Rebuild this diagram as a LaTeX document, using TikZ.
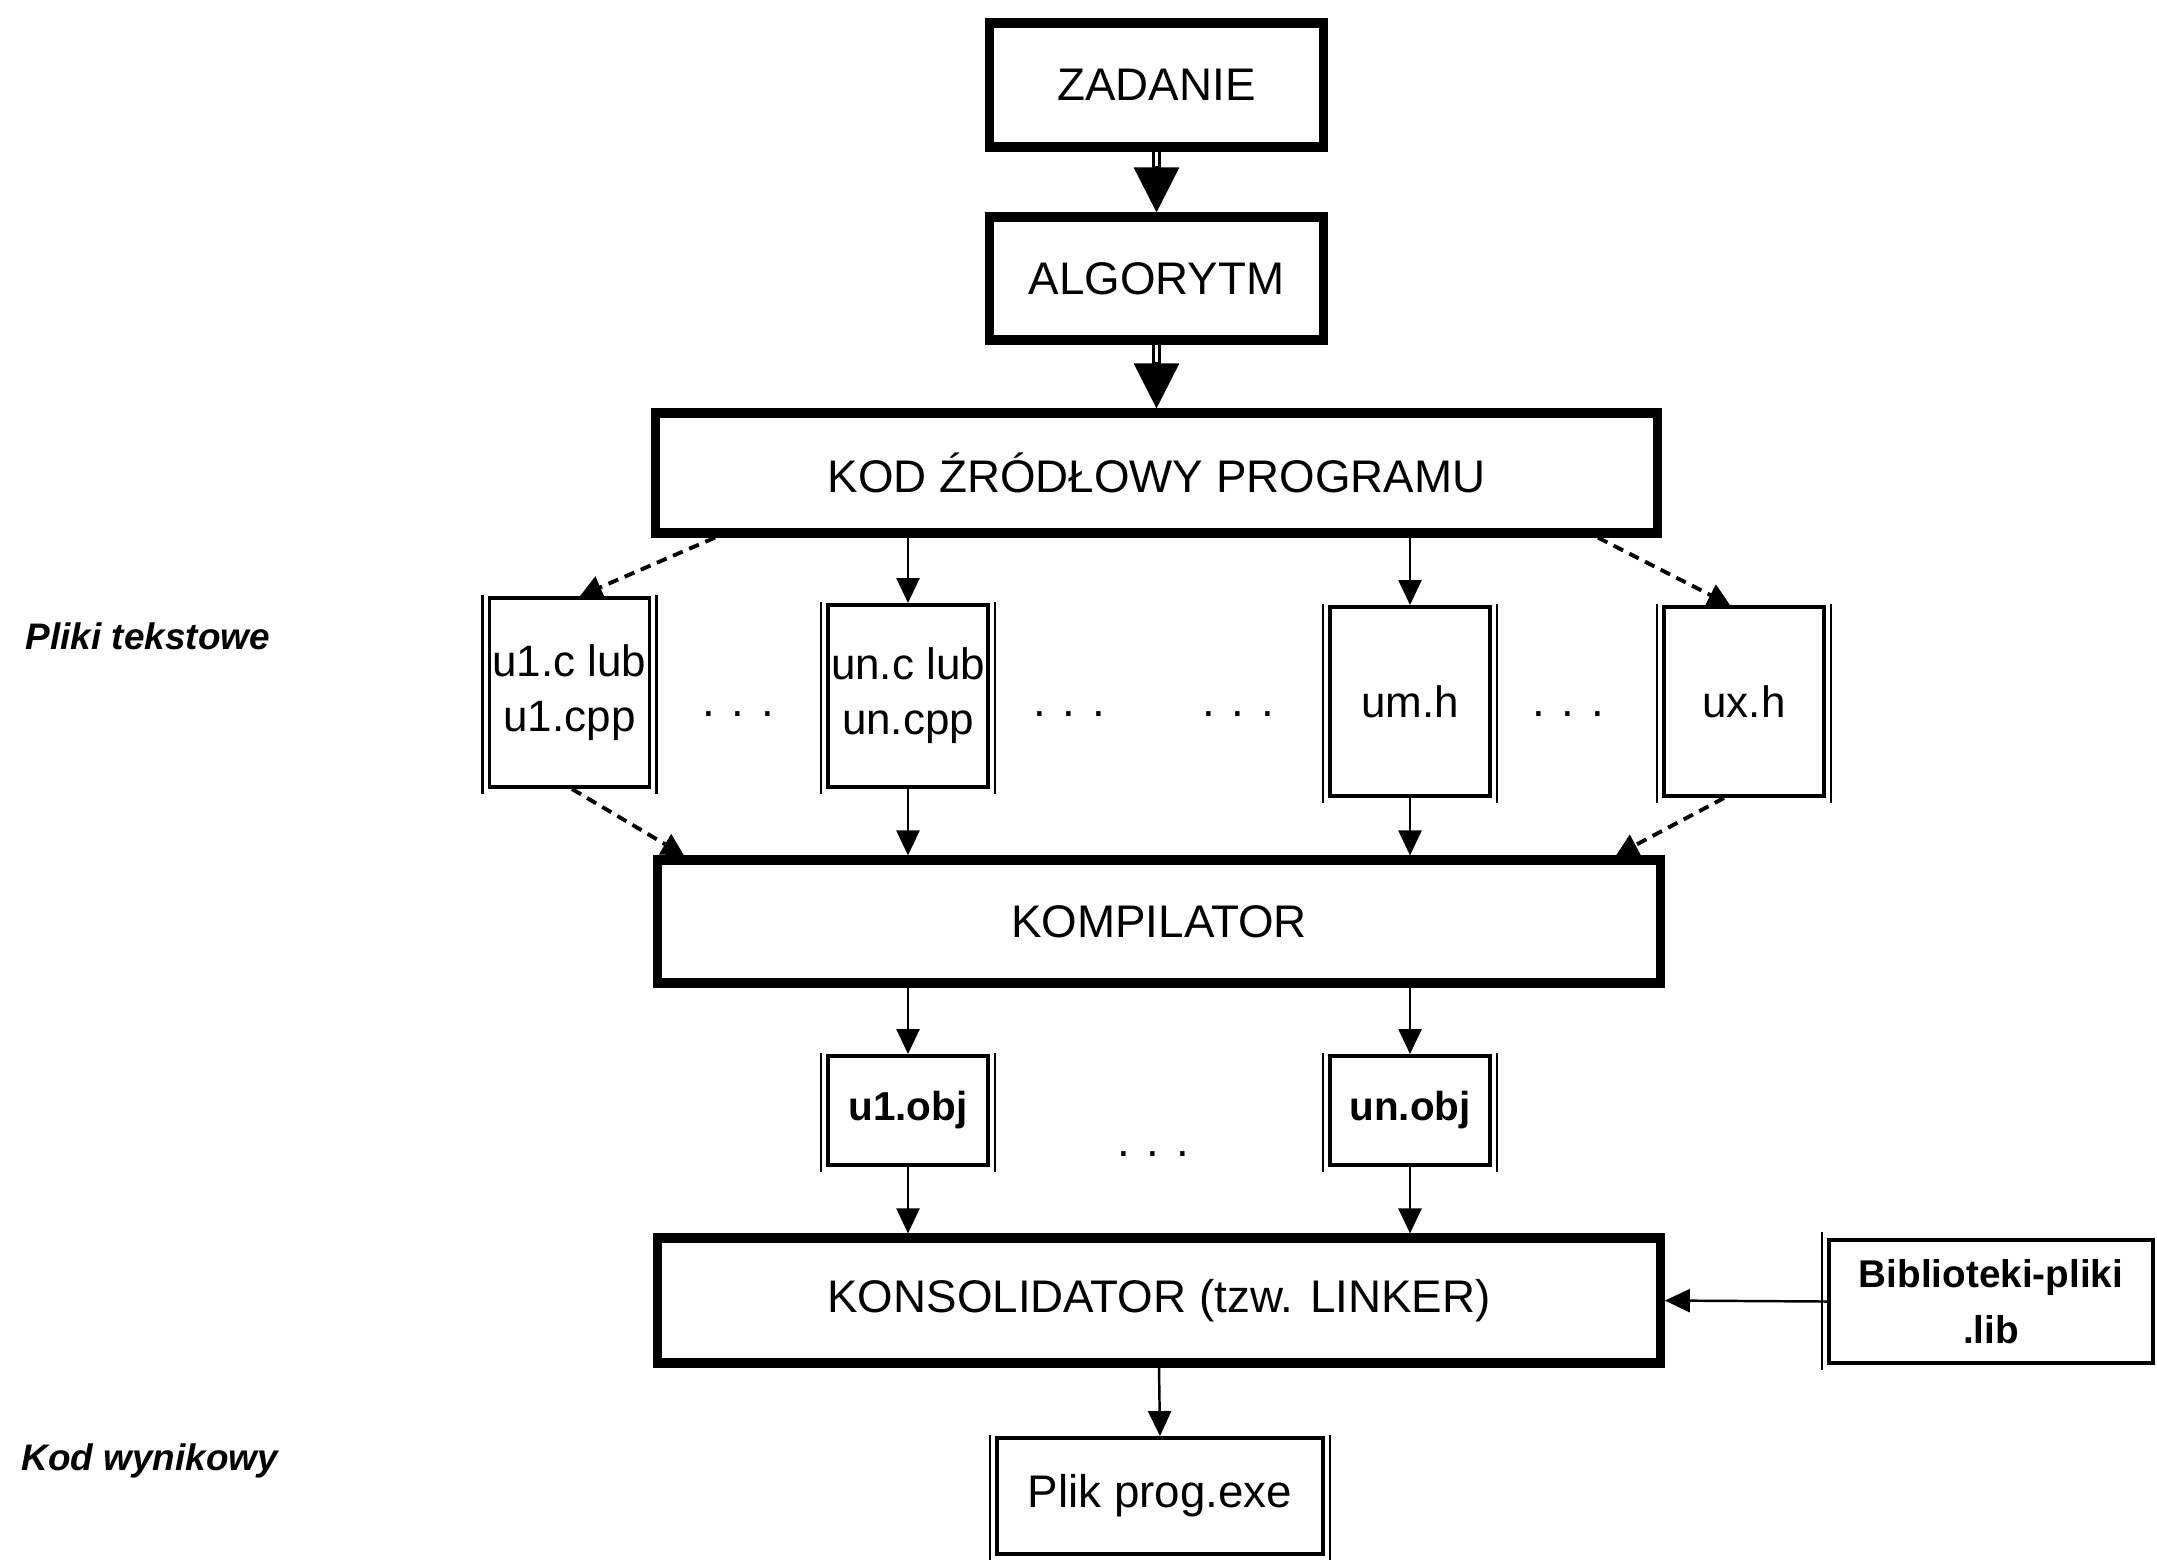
\documentclass[tikz,border=0pt]{standalone}
\usepackage{fontspec}
\setmainfont{Liberation Sans}
\usetikzlibrary{arrows.meta}
\begin{document}
\begin{tikzpicture}[x=0.01cm,y=-0.01cm,
  thickbox/.style={draw, line width=2.6pt, inner sep=0pt, font=\fontsize{13}{15}\selectfont},
  filebox/.style={draw, line width=1.1pt, inner sep=0pt, align=center, minimum width=1.60cm, font=\fontsize{12.5}{15.6}\selectfont},
  objbox/.style={filebox, font=\fontsize{11.5}{14}\selectfont\bfseries},
  sideline/.style={line width=0.7pt},
  dotstxt/.style={inner sep=0pt, anchor=base, font=\fontsize{13}{15}\selectfont},
  lbl/.style={inner sep=0pt, anchor=west, font=\fontsize{10.5}{12}\selectfont\bfseries\itshape},
  arr/.style={line width=0.7pt, -{Triangle[width=0.23cm,length=0.25cm]}},
  darr/.style={line width=1.1pt, dash pattern=on 3pt off 2pt, -{Triangle[width=0.23cm,length=0.22cm]}},
  dblshaft/.style={double, line width=0.8pt, double distance=0.7pt},
  bigtip/.style={line width=0.8pt, -{Triangle[width=0.45cm,length=0.45cm]}}
]
\fill[white] (0,0) rectangle (2157,1559);
\useasboundingbox (0,0) rectangle (2157,1559);

% main boxes
\node[thickbox, minimum width=3.33cm, minimum height=1.24cm] (zad) at (1156.5,85) {ZADANIE};
\node[thickbox, minimum width=3.33cm, minimum height=1.23cm] (alg) at (1156.5,278.5) {ALGORYTM};
\node[thickbox, minimum width=10.01cm, minimum height=1.20cm] (kod) at (1156.5,473) {KOD ŹRÓDŁOWY PROGRAMU};
\node[thickbox, minimum width=10.02cm, minimum height=1.23cm] (komp) at (1159,921.5) {KOMPILATOR};
\node[thickbox, minimum width=10.02cm, minimum height=1.25cm] (kons) at (1159,1300.5) {KONSOLIDATOR (tzw. LINKER)};

% file boxes
\node[filebox, minimum height=1.89cm] (u1) at (569.5,692.5) {u1.c lub\\u1.cpp};
\node[filebox, minimum height=1.82cm] (un) at (908,696) {un.c lub\\un.cpp};
\node[filebox, minimum height=1.89cm] (um) at (1410,701.5) {um.h};
\node[filebox, minimum height=1.89cm] (ux) at (1744,701.5) {ux.h};
\node[objbox, minimum height=1.09cm] (o1) at (908,1110.5) {u1.obj};
\node[objbox, minimum height=1.09cm] (on) at (1410,1110.5) {un.obj};
\node[filebox, minimum width=3.26cm, minimum height=1.16cm, font=\fontsize{13}{15}\selectfont] (exe) at (1160,1496) {Plik prog.exe};
\node[filebox, minimum width=3.24cm, minimum height=1.23cm, font=\fontsize{11}{16}\selectfont\bfseries] (bib) at (1991,1301.5) {Biblioteki-pliki\\.lib};

\foreach \n in {u1,un,um,ux,o1,on,exe}{
  \draw[sideline] ([xshift=-0.05cm,yshift=0.01cm]\n.north west) -- ([xshift=-0.05cm,yshift=-0.05cm]\n.south west);
  \draw[sideline] ([xshift=0.05cm,yshift=0.01cm]\n.north east) -- ([xshift=0.05cm,yshift=-0.05cm]\n.south east);
}
\draw[sideline] ([xshift=-0.05cm,yshift=0.06cm]bib.north west) -- ([xshift=-0.05cm,yshift=-0.05cm]bib.south west);

% dots
\node[dotstxt] (d1) at (738,716) {. . .};
\node[dotstxt] (d2) at (1069,716) {. . .};
\node[dotstxt] (d3) at (1238,716) {. . .};
\node[dotstxt] (d4) at (1568,716) {. . .};
\node[dotstxt] (d5) at (1153,1156) {. . .};

% side labels
\node[lbl] (pliki) at (25,636) {Pliki tekstowe};
\node[lbl] (wyn) at (21,1461) {Kod wynikowy};

% big arrows
\draw[dblshaft] (zad.south) -- ([yshift=0.44cm]alg.north);
\draw[bigtip] ([yshift=0.46cm]alg.north) -- (alg.north);
\draw[dblshaft] (alg.south) -- ([yshift=0.40cm]kod.north);
\draw[bigtip] ([yshift=0.46cm]kod.north) -- (kod.north);

% from source code to files
\draw[darr] (715,0 |- kod.south) -- (580,0 |- u1.north);
\draw[arr] (un.north |- kod.south) -- (un.north);
\draw[arr] (um.north |- kod.south) -- (um.north);
\draw[darr] (1598,0 |- kod.south) -- (1730,0 |- ux.north);

% files to compiler
\draw[darr] (572,0 |- u1.south) -- (684,0 |- komp.north);
\draw[arr] (un.south) -- (un.south |- komp.north);
\draw[arr] (um.south) -- (um.south |- komp.north);
\draw[darr] (1724,0 |- ux.south) -- (1616,0 |- komp.north);

% compiler to obj
\draw[arr] (o1.north |- komp.south) -- (o1.north);
\draw[arr] (on.north |- komp.south) -- (on.north);
\draw[arr] (o1.south) -- (o1.south |- kons.north);
\draw[arr] (on.south) -- (on.south |- kons.north);

% linker
\draw[arr] (bib.west) -- (kons.east);
\draw[arr] (kons.south) -- (exe.north);
\end{tikzpicture}
\end{document}
